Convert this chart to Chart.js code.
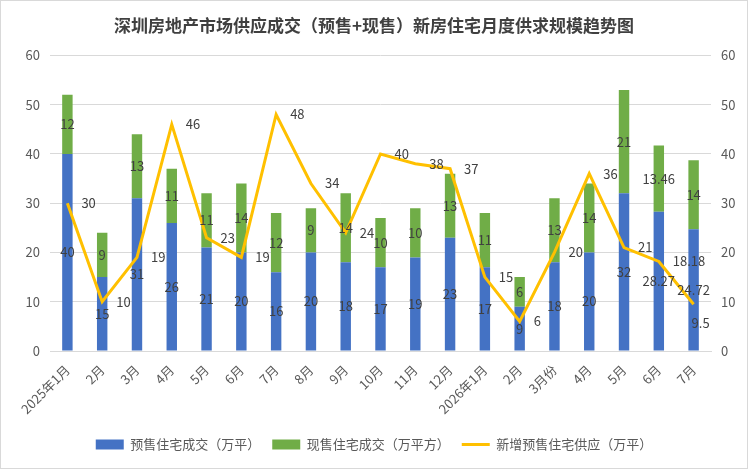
<!DOCTYPE html>
<html>
<head>
<meta charset="utf-8">
<script src="https://cdn.jsdelivr.net/npm/chart.js@4/dist/chart.umd.min.js"></script>
<style>
  html, body { margin: 0; padding: 0; background: #fff; }
  #wrap { position: relative; width: 746px; height: 467px; border: 1px solid #d9d9d9; }
</style>
</head>
<body>
<div id="wrap"><canvas id="chart"></canvas></div>
<script>
const months = ['2025年1月', '2月', '3月', '4月', '5月', '6月', '7月', '8月', '9月', '10月', '11月', '12月',
    '2026年1月', '2月', '3月份', '4月', '5月', '6月', '7月'];
const presale = [40, 15, 31, 26, 21, 20, 16, 20, 18, 17, 19, 23, 17, 9, 18, 20, 32, 28.27, 24.72];
const spot = [12, 9, 13, 11, 11, 14, 12, 9, 14, 10, 10, 13, 11, 6, 13, 14, 21, 13.46, 14];
const newSupply = [30, 10, 19, 46, 23, 19, 48, 34, 24, 40, 38, 37, 15, 6, 20, 36, 21, 18.18, 9.5];
const axisTicks = [0, 10, 20, 30, 40, 50, 60];

const FONT = '"Noto Sans CJK SC", "Noto Sans", sans-serif';
const textColor = '#595959';

// value labels: bars in the middle of the segment, line to the right of the point
const valueLabels = {
    id: 'valueLabels',
    afterDatasetsDraw(chart) {
        const ctx = chart.ctx;
        const area = chart.chartArea;
        ctx.save();
        ctx.font = '13px ' + FONT;
        ctx.fillStyle = '#404040';
        ctx.textBaseline = 'middle';
        chart.data.datasets.forEach((ds, i) => {
            const meta = chart.getDatasetMeta(i);
            meta.data.forEach((el, j) => {
                const txt = String(ds.data[j]);
                if (ds.type === 'line') {
                    const w = ctx.measureText(txt).width;
                    ctx.textAlign = 'left';
                    if (el.x + 14 + w > area.right) {
                        ctx.fillText(txt, el.x - 2, el.y + 19);
                    } else {
                        ctx.fillText(txt, el.x + 14, el.y);
                    }
                } else {
                    ctx.textAlign = 'center';
                    ctx.fillText(txt, el.x, (el.y + el.base) / 2);
                }
            });
        });
        ctx.restore();
    }
};

new Chart(document.getElementById('chart'), {
    data: {
        labels: months,
        datasets: [
            {
                type: 'bar',
                label: '预售住宅成交（万平）',
                data: presale,
                backgroundColor: '#4472C4',
                yAxisID: 'y',
                order: 1,
                barPercentage: 0.3,
                categoryPercentage: 1
            },
            {
                type: 'bar',
                label: '现售住宅成交（万平方）',
                data: spot,
                backgroundColor: '#70AD47',
                yAxisID: 'y',
                order: 1,
                barPercentage: 0.3,
                categoryPercentage: 1
            },
            {
                type: 'line',
                label: '新增预售住宅供应（万平）',
                data: newSupply,
                borderColor: '#FFC000',
                backgroundColor: '#FFC000',
                borderWidth: 3,
                pointRadius: 0,
                tension: 0,
                yAxisID: 'y1',
                order: 0
            }
        ]
    },
    options: {
        responsive: true,
        maintainAspectRatio: false,
        animation: false,
        layout: { padding: { left: 0, right: 0, top: 6, bottom: 7 } },
        plugins: {
            title: {
                display: true,
                text: '深圳房地产市场供应成交（预售+现售）新房住宅月度供求规模趋势图',
                color: '#404040',
                font: { family: FONT, size: 17, weight: 'bold' },
                padding: { top: 8, bottom: 20 }
            },
            legend: {
                position: 'bottom',
                labels: {
                    sort: (a, b) => a.datasetIndex - b.datasetIndex,
                    color: textColor,
                    font: { family: FONT, size: 13 },
                    usePointStyle: true,
                    pointStyleWidth: 28,
                    boxHeight: 10,
                    padding: 12,
                    generateLabels(chart) {
                        const items = Chart.defaults.plugins.legend.labels.generateLabels(chart);
                        items.forEach(it => {
                            const ds = chart.data.datasets[it.datasetIndex];
                            it.pointStyle = ds.type === 'line' ? 'line' : 'rect';
                            it.lineWidth = ds.type === 'line' ? 3 : 0;
                            it.strokeStyle = ds.type === 'line' ? '#FFC000' : ds.backgroundColor;
                        });
                        return items;
                    }
                }
            },
            tooltip: { enabled: false }
        },
        scales: {
            x: {
                stacked: true,
                grid: { display: false },
                border: { color: '#d9d9d9' },
                afterFit: scale => { scale.height = 75; },
                ticks: {
                    color: textColor,
                    font: { family: FONT, size: 13 },
                    minRotation: 45,
                    maxRotation: 45,
                    autoSkip: false
                }
            },
            y: {
                stacked: true,
                position: 'left',
                min: 0,
                max: 60,
                afterBuildTicks: scale => { scale.ticks = axisTicks.map(v => ({ value: v })); },
                afterFit: scale => { scale.width = 49; },
                grid: { color: '#d9d9d9', drawTicks: false },
                border: { display: false },
                ticks: { color: textColor, font: { family: FONT, size: 13 }, padding: 10 }
            },
            y1: {
                position: 'right',
                min: 0,
                max: 60,
                afterBuildTicks: scale => { scale.ticks = axisTicks.map(v => ({ value: v })); },
                afterFit: scale => { scale.width = 36; },
                grid: { display: false, drawTicks: false },
                border: { display: false },
                ticks: { color: textColor, font: { family: FONT, size: 13 }, padding: 10 }
            }
        }
    },
    plugins: [valueLabels]
});
</script>
</body>
</html>
